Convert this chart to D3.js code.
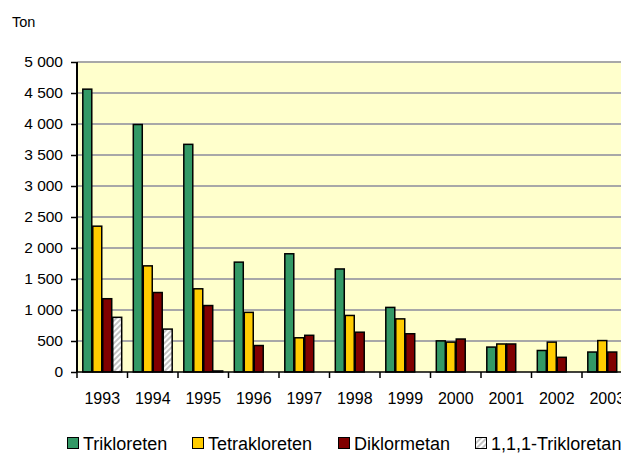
<head>
<meta charset="utf-8">
<style>
body { margin: 0; background: #ffffff; }
text { font-family: "Liberation Sans", Arial, sans-serif; fill: #000; }
</style>
</head>
<body>
<script src="https://d3js.org/d3.v7.min.js"></script>
<div id="chart"></div>
<script>
// data (tons)
var years = ["1993","1994","1995","1996","1997","1998","1999","2000","2001","2002","2003"];
var series = ["Trikloreten", "Tetrakloreten", "Diklormetan", "1,1,1-Trikloretan"];
var trikloreten   = [4570, 4000, 3680, 1780, 1915, 1670, 1050, 510, 410, 355, 330];
var tetrakloreten = [2360, 1720, 1350, 970, 560, 920, 865, 490, 460, 490, 515];
var diklormetan   = [1190, 1290, 1080, 435, 600, 650, 625, 540, 460, 245, 330];
var trikloretan   = [890, 700, 25, 0, 0, 0, 0, 0, 0, 0, 0];
var yTicks = [0, 500, 1000, 1500, 2000, 2500, 3000, 3500, 4000, 4500, 5000];

var colors = ["#339966", "#ffcc00", "#800000", "url(#hatch)"];
var values = [trikloreten, tetrakloreten, diklormetan, trikloretan];

var width = 621, height = 454;
var plotLeft = 77, plotTop = 62, plotBottom = 372;
var catW = 50.5;
var plotRight = plotLeft + catW * years.length;

var svg = d3.select("#chart").append("svg")
    .attr("width", width)
    .attr("height", height);

var defs = svg.append("defs");
var pat = defs.append("pattern")
    .attr("id", "hatch")
    .attr("patternUnits", "userSpaceOnUse")
    .attr("width", 4).attr("height", 4)
    .attr("patternTransform", "rotate(45)");
pat.append("rect").attr("width", 4).attr("height", 4).attr("fill", "#ffffff");
pat.append("rect").attr("width", 2).attr("height", 4).attr("fill", "#c4c4c4");

var x0 = d3.scaleBand()
    .domain(years)
    .range([plotLeft, plotRight])
    .paddingInner(0.21)
    .paddingOuter(0.105);

var x1 = d3.scaleBand()
    .domain(series)
    .range([0, x0.bandwidth()]);

var y = d3.scaleLinear()
    .domain([0, 5000])
    .range([plotBottom, plotTop]);

// plot background
svg.append("rect")
    .attr("x", plotLeft).attr("y", plotTop)
    .attr("width", plotRight - plotLeft).attr("height", plotBottom - plotTop)
    .attr("fill", "#ffffcc");

// gridlines
svg.append("g").selectAll("line")
    .data(yTicks.slice(1))
    .enter().append("line")
    .attr("x1", plotLeft).attr("x2", plotRight)
    .attr("y1", function(d){ return y(d); })
    .attr("y2", function(d){ return y(d); })
    .attr("stroke", "#a8a8a8")
    .attr("stroke-width", 2);

// bars
var groups = svg.append("g").selectAll("g")
    .data(years)
    .enter().append("g")
    .attr("transform", function(d){ return "translate(" + x0(d) + ",0)"; });

groups.selectAll("rect")
    .data(function(d, i){
        return series.map(function(s, j){ return {key: s, value: values[j][i], color: colors[j]}; });
    })
    .enter().append("rect")
    .filter(function(d){ return d.value > 0; })
    .attr("x", function(d){ return x1(d.key) + 0.5; })
    .attr("y", function(d){ return y(d.value) + 0.5; })
    .attr("width", x1.bandwidth() - 1)
    .attr("height", function(d){ return Math.max(0, plotBottom - y(d.value) - 0.5); })
    .attr("fill", function(d){ return d.color; })
    .attr("stroke", "#000")
    .attr("stroke-width", 1.5);

// y axis
var yAxis = svg.append("g")
    .attr("transform", "translate(" + plotLeft + ",0)")
    .call(d3.axisLeft(y)
        .tickValues(yTicks)
        .tickSize(6)
        .tickPadding(8)
        .tickFormat(function(d){ return d3.format(",")(d).replace(",", " "); }));
yAxis.select(".domain").attr("stroke", "#000").attr("stroke-width", 2).attr("d", "M0," + plotTop + "V" + plotBottom);
yAxis.selectAll(".tick line").attr("stroke", "#000").attr("stroke-width", 1.5);
yAxis.selectAll("text").style("font-size", "15.5px");

// x axis
svg.append("line")
    .attr("x1", plotLeft).attr("x2", plotRight)
    .attr("y1", plotBottom).attr("y2", plotBottom)
    .attr("stroke", "#000").attr("stroke-width", 1.5);

svg.append("g").selectAll("line")
    .data(d3.range(years.length + 1))
    .enter().append("line")
    .attr("x1", function(i){ return plotLeft + i * catW; })
    .attr("x2", function(i){ return plotLeft + i * catW; })
    .attr("y1", plotBottom).attr("y2", plotBottom + 6)
    .attr("stroke", "#000").attr("stroke-width", 1.5);

svg.append("g").selectAll("text")
    .data(years)
    .enter().append("text")
    .attr("x", function(d){ return x0(d) + x0.bandwidth() / 2; })
    .attr("y", 404)
    .attr("text-anchor", "middle")
    .style("font-size", "16px")
    .text(function(d){ return d; });

// unit label
svg.append("text")
    .attr("x", 12).attr("y", 27)
    .style("font-size", "14.5px")
    .text("Ton");

// legend
var legX = [67, 192, 338, 475];
var leg = svg.append("g").selectAll("g")
    .data(series)
    .enter().append("g")
    .attr("transform", function(d, i){ return "translate(" + legX[i] + ",437)"; });
leg.append("rect")
    .attr("x", 0.5).attr("y", 0.5)
    .attr("width", 11).attr("height", 11)
    .attr("fill", function(d, i){ return colors[i]; })
    .attr("stroke", "#000").attr("stroke-width", 1);
leg.append("text")
    .attr("x", 16).attr("y", 13)
    .style("font-size", "18px")
    .text(function(d){ return d; });
</script>
</body>
